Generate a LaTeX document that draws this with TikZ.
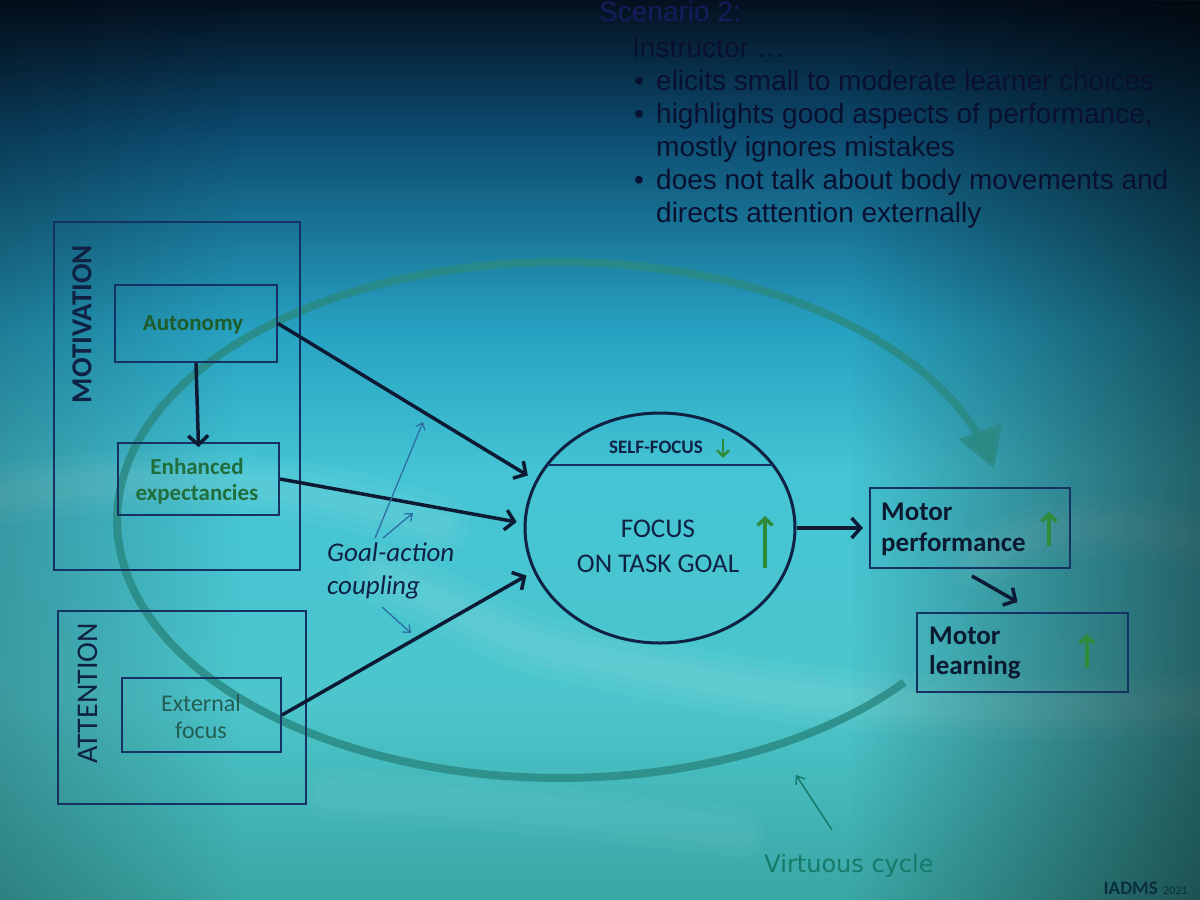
\documentclass[tikz,border=0pt]{standalone}
\usepackage{fontspec}
\setmainfont{Carlito}
\newfontfamily\arialf{Liberation Sans}
\newfontfamily\dejaf{DejaVu Sans}
\usetikzlibrary{arrows.meta,shapes.geometric,fadings,calc}
\definecolor{bgA}{HTML}{04101F}
\definecolor{bgB}{HTML}{0C4A6E}
\definecolor{bgC}{HTML}{27A2C2}
\definecolor{bgD}{HTML}{44C4D4}
\definecolor{bgE}{HTML}{4CC6CC}
\definecolor{bgF}{HTML}{3AA6A4}
\definecolor{topc}{HTML}{0A1030}
\definecolor{scnc}{HTML}{161C5C}
\definecolor{boxc}{HTML}{163262}
\definecolor{arrc}{HTML}{0D1A33}
\definecolor{grtxt}{HTML}{1E5C2C}
\definecolor{grtxtb}{HTML}{1F6E3C}
\definecolor{extc}{HTML}{235E54}
\definecolor{navy}{HTML}{0F2244}
\definecolor{grn}{HTML}{2E8B3A}
\definecolor{thinc}{HTML}{2C6FA5}
\definecolor{cyc}{HTML}{2A8A84}
\definecolor{vcc}{HTML}{167A6A}
\definecolor{motc}{HTML}{0B1A30}
\tikzfading[name=fadeR, left color=transparent!100, right color=transparent!0]
\tikzfading[name=fadeL, left color=transparent!0, right color=transparent!100]
\tikzset{
  box/.style={draw=boxc, line width=2pt, inner sep=0pt},
  conn/.style={draw=arrc, line width=3.5pt, -{Straight Barb[length=9pt,width=20pt]}},
  thinarr/.style={draw=thinc, line width=1.3pt, -{Straight Barb[length=6pt,width=10pt]}},
  grnup/.style={draw=grn, line width=3.5pt, -{Straight Barb[length=7pt,width=15pt]}},
  toptext/.style={anchor=base west, inner sep=0pt, text=topc, font=\arialf\fontsize{28}{33}\selectfont},
  streak/.style={white, line cap=round, fill=none}
}
\begin{document}
\begin{tikzpicture}[x=1pt,y=-1pt]
\useasboundingbox (0,0) rectangle (1200,900);
% background
\shade[top color=bgA, bottom color=bgB] (0,0) rectangle (1200,131);
\shade[top color=bgB, bottom color=bgC] (0,130) rectangle (1200,331);
\shade[top color=bgC, bottom color=bgD] (0,330) rectangle (1200,471);
\shade[top color=bgD, bottom color=bgE] (0,470) rectangle (1200,701);
\shade[top color=bgE, bottom color=bgF] (0,700) rectangle (1200,900);
% light streaks
\foreach \w/\o in {60/0.035, 40/0.035, 24/0.04}{
  \draw[streak, opacity=\o, line width=\w] (0,495) .. controls (150,470) and (300,480) .. (440,525);
  \draw[streak, opacity=\o, line width=\w] (380,575) .. controls (450,600) and (500,640) .. (560,650) .. controls (700,680) and (850,720) .. (1200,705);
  \draw[streak, opacity=\o, line width=\w] (980,560) .. controls (1050,520) and (1120,520) .. (1200,540);
}
\foreach \w/\o in {50/0.03, 30/0.03}{
  \draw[streak, opacity=\o, line width=\w] (330,795) .. controls (450,800) and (600,815) .. (740,832);
}
% side darkening
\fill[black, opacity=0.5, path fading=fadeR] (850,0) rectangle (1200,900);
\fill[black, opacity=0.22, path fading=fadeL] (0,0) rectangle (240,900);
% virtuous cycle arc
\draw[cyc, opacity=0.85, line width=8pt, -{Triangle[length=40pt,width=44pt]}]
  plot[domain=39:348.5, samples=140, smooth] ({560+443*cos(\x)}, {520+258*sin(\x)});
% top text
\node[toptext, text=scnc] (scn) at (599,21) {Scenario 2:};
\node[toptext] (ins) at (632,57) {Instructor …};
\node[toptext] (b1) at (634,90) {•};
\node[toptext] (t1) at (656,90) {elicits small to moderate learner choices};
\node[toptext] (b2) at (634,123) {•};
\node[toptext] (t2) at (656,123) {highlights good aspects of performance,};
\node[toptext] (t2b) at (656,156) {mostly ignores mistakes};
\node[toptext] (b3) at (634,189) {•};
\node[toptext] (t3) at (656,189) {does not talk about body movements and};
\node[toptext] (t3b) at (656,222) {directs attention externally};
% motivation group
\node[box, minimum width=246pt, minimum height=348pt] (mot) at (177,396) {};
\node[rotate=90, text=navy, font=\bfseries\fontsize{29}{33}\selectfont, inner sep=0pt] (motl) at (82,324) {MOTIVATION};
\node[box, minimum width=162pt, minimum height=77pt] (auto) at (196,323.5) {};
\node[text=grtxt, font=\bfseries\fontsize{23}{27}\selectfont, inner sep=0pt] (autot) at (193,325) {Autonomy};
\node[box, minimum width=161pt, minimum height=72pt] (enh) at (198.5,479) {};
\node[text=grtxtb, font=\bfseries\fontsize{23}{26}\selectfont, align=center, inner sep=0pt] (enht) at (197,481) {Enhanced\\expectancies};
% attention group
\node[box, minimum width=248pt, minimum height=193pt] (att) at (182,707.5) {};
\node[rotate=90, text=navy, font=\fontsize{30}{33}\selectfont, inner sep=0pt] (attl) at (88,693) {ATTENTION};
\node[box, minimum width=159pt, minimum height=74pt] (ext) at (201.5,715) {};
\node[text=extc, font=\fontsize{24}{27}\selectfont, align=center, inner sep=0pt] (extt) at (201,717) {External\\focus};
% focus ellipse
\node[ellipse, draw=navy, line width=3pt, minimum width=270pt, minimum height=230pt, inner sep=0pt] (focus) at (660,528) {};
\draw[draw=boxc, line width=1.6pt] ($(focus.center)+(-113,-63)$) -- ($(focus.center)+(113,-63)$);
\node[text=navy, font=\bfseries\fontsize{19}{22}\selectfont, inner sep=0pt] (self) at (656,447) {SELF-FOCUS};
\coordinate (sfa) at (723,439);
\coordinate (sfb) at (723,458);
\draw[grnup, line width=2.5pt, -{Straight Barb[length=6pt,width=12pt]}] (sfa) -- (sfb);
\node[text=navy, font=\fontsize{27}{35}\selectfont, align=center, inner sep=0pt] (ftg) at (658,546) {FOCUS\\ON TASK GOAL};
\coordinate (fga) at (765,568);
\coordinate (fgb) at (765,516);
\draw[grnup] (fga) -- (fgb);
% motor boxes
\node[box, minimum width=200pt, minimum height=80pt] (perf) at (970,528) {};
\node[anchor=west, text=motc, font=\bfseries\fontsize{27}{31}\selectfont, align=left, inner sep=0pt] (perft) at (881,529) {Motor\\performance};
\coordinate (pga) at (1049,546);
\coordinate (pgb) at (1049,512);
\draw[grnup] (pga) -- (pgb);
\node[box, minimum width=211pt, minimum height=79pt] (learn) at (1022.5,652.5) {};
\node[anchor=west, text=motc, font=\bfseries\fontsize{27}{30}\selectfont, align=left, inner sep=0pt] (learnt) at (929,653) {Motor\\learning};
\coordinate (lga) at (1087,668);
\coordinate (lgb) at (1087,634);
\draw[grnup] (lga) -- (lgb);
% connectors
\draw[conn] (auto.south) -- ([yshift=-5pt]enh.north);
\draw[conn, shorten >=9pt] (auto.east) -- (focus.159);
\draw[conn, shorten >=7pt] (enh.east) -- (focus.178);
\draw[conn, shorten >=8pt] (ext.east) -- (focus.199);
\draw[conn, shorten >=6pt] (focus.east) -- (perf.west);
\draw[conn] ($(perf.south)+(2,7)$) -- ($(learn.north)+(-5,-10)$);
% goal-action coupling
\node[anchor=west, text=navy, font=\itshape\fontsize{27}{33}\selectfont, align=left, inner sep=0pt] (gac) at (327,571) {Goal-action\\coupling};
\coordinate (g1s) at (375,538);
\coordinate (g1e) at (423,422);
\coordinate (g2s) at (383,538);
\coordinate (g2e) at (413,513);
\coordinate (g3s) at (382,607);
\coordinate (g3e) at (411,633);
\draw[thinarr] (g1s) -- (g1e);
\draw[thinarr] (g2s) -- (g2e);
\draw[thinarr] (g3s) -- (g3e);
% virtuous cycle label
\node[text=vcc, font=\dejaf\fontsize{24}{28}\selectfont, inner sep=0pt] (vc) at (849,866) {Virtuous cycle};
\coordinate (vcs) at (832,830);
\coordinate (vce) at (796,775);
\draw[draw=vcc, line width=1.5pt, -{Straight Barb[length=7pt,width=11pt]}] (vcs) -- (vce);
% footer
\node[anchor=base east, text=motc!80!teal, font=\bfseries\fontsize{19}{22}\selectfont, inner sep=0pt] (iadms) at (1158,894) {IADMS};
\node[anchor=base west, text=motc!80!teal, font=\fontsize{12}{14}\selectfont, inner sep=0pt] (yr) at (1163,894) {2021};
\end{tikzpicture}
\end{document}
